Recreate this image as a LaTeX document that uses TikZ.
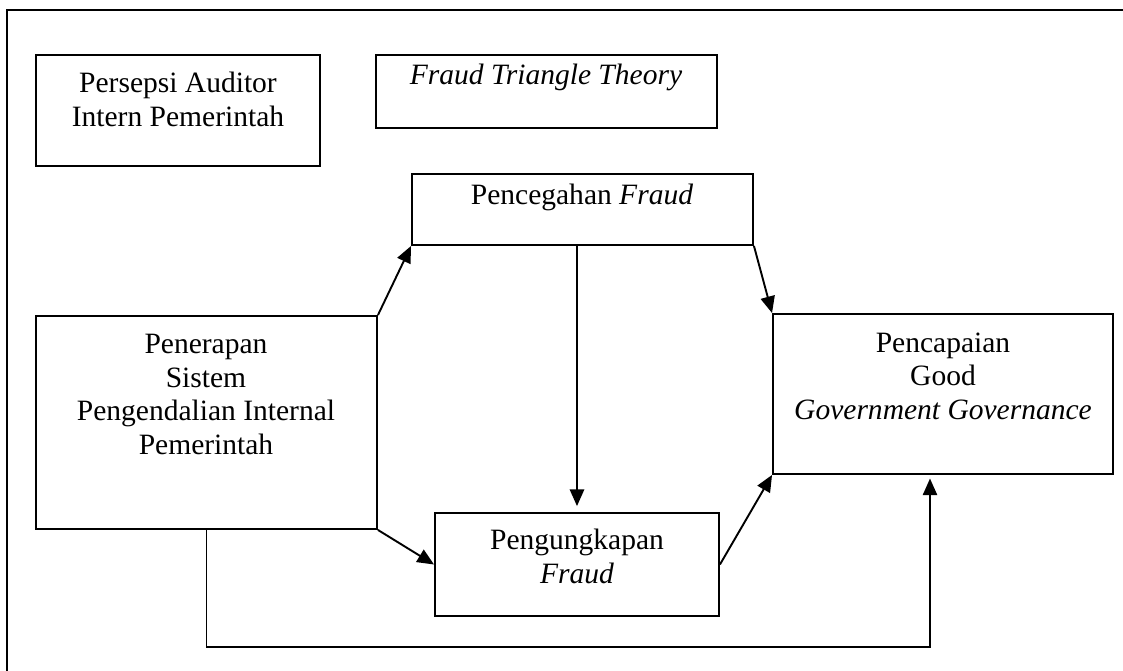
\documentclass[tikz,border=0pt]{standalone}
\usepackage{fontspec}
\setmainfont{Liberation Serif}
\usetikzlibrary{fit,arrows.meta}
\tikzstyle{box}=[draw,thick,inner sep=0pt]
\tikzstyle{txt}=[anchor=north,align=center,inner sep=0pt,font=\fontsize{12.4}{14.1}\selectfont]
\tikzstyle{link}=[thick,-{Triangle[length=7pt,width=6pt]}]

\begin{document}
\begin{tikzpicture}[x=0.42pt,y=-0.42pt]
\useasboundingbox (0,0) rectangle (1123,670);
% outer frame
\draw[thick] (7,700) -- (7,10) -- (1150,10);
% boxes
\node[box,fit={(36,55)(320,166)}] (persepsi) {};
\node[box,fit={(376,55)(717,128)}] (triangle) {};
\node[box,fit={(412,174)(753,245)}] (pencegahan) {};
\node[box,fit={(36,316)(377,529)}] (penerapan) {};
\node[box,fit={(773,314)(1113,474)}] (pencapaian) {};
\node[box,fit={(435,513)(719,616)}] (pengungkapan) {};
% texts
\node[txt] at (178,72) (persepsi-t) {Persepsi Auditor\\Intern Pemerintah};
\node[txt] at (546,64) (triangle-t) {\textit{Fraud Triangle Theory}};
\node[txt] at (582,184) (pencegahan-t) {Pencegahan \textit{Fraud}};
\node[txt] at (206,334) (penerapan-t) {Penerapan\\Sistem\\Pengendalian Internal\\Pemerintah};
\node[txt] at (943,332) (pencapaian-t) {Pencapaian\\Good\\\textit{Government Governance}};
\node[txt] at (577,529) (pengungkapan-t) {Pengungkapan\\\textit{Fraud}};
% arrows
\draw[link] (penerapan.north east) -- (pencegahan.south west);
\draw[link] (pencegahan.south east) -- (pencapaian.north west);
\draw[link,shorten >=2.5pt] (pengungkapan.north |- pencegahan.south) -- (pengungkapan.north);
\draw[link] (penerapan.south east) -- (pengungkapan.west);
\draw[link] (pengungkapan.east) -- (pencapaian.south west);
\coordinate (loop) at (930,647);
\draw[link,shorten >=1.5pt] (penerapan.south) |- (loop) -- (loop |- pencapaian.south);
\end{tikzpicture}
\end{document}
